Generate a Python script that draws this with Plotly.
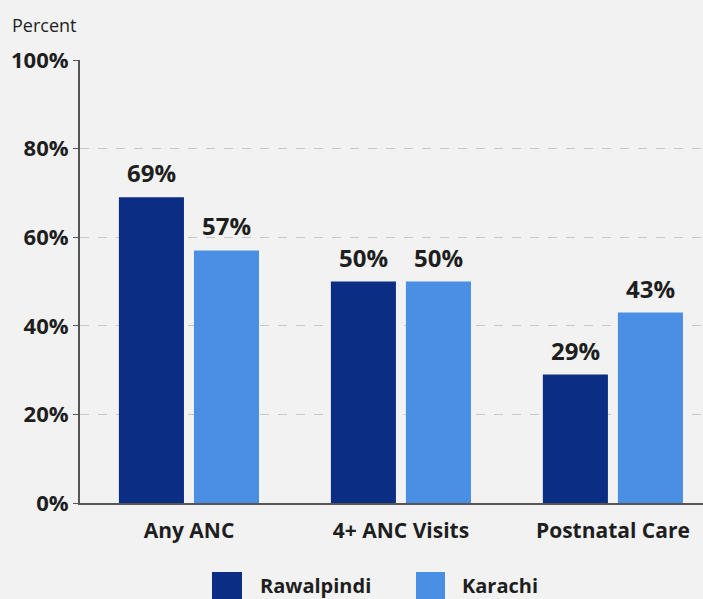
import plotly.graph_objects as go

categories = ["Any ANC", "4+ ANC Visits", "Postnatal Care"]
rawalpindi = [69, 50, 29]
karachi = [57, 50, 43]
series_names = ["Rawalpindi", "Karachi"]
colors = ["#0b2d84", "#4a8fe3"]
y_ticks = [0, 20, 40, 60, 80, 100]

FONT = "Open Sans"
TXT = "#1e1e1e"

fig = go.Figure()
series = [rawalpindi, karachi]
for name, vals, col in zip(series_names, series, colors):
    fig.add_trace(go.Bar(
        x=categories, y=vals, name=name, marker_color=col,
        marker_line_width=0, showlegend=False,
    ))

annotations = []
# value labels above bars
for si, vals in enumerate(series):
    for cat, v in zip(categories, vals):
        annotations.append(dict(
            x=cat, y=v, xref="x", yref="y", text=f"<b>{v}%</b>",
            xshift=-37 if si == 0 else 38, yshift=6,
            yanchor="bottom", showarrow=False,
            font=dict(family=FONT, size=24, color=TXT)))

annotations.append(dict(text="Percent", x=-0.112, y=1.0, xref="paper", yref="paper",
                        xanchor="left", yanchor="bottom", yshift=21, showarrow=False,
                        font=dict(family=FONT, size=18, color=TXT)))

# legend (large square swatches)
legend_pos = [(0.2119, 0.2600, 0.2856), (0.5393, 0.5859, 0.6100)]
shapes = []
for (x0, x1, xt), name, col in zip(legend_pos, series_names, colors):
    shapes.append(dict(type="rect", xref="paper", yref="paper",
                       x0=x0, x1=x1, y0=-0.2235, y1=-0.1558,
                       fillcolor=col, line_width=0))
    annotations.append(dict(text=f"<b>{name}</b>", x=xt, y=-0.186, xref="paper",
                            yref="paper", xanchor="left", yanchor="middle",
                            showarrow=False,
                            font=dict(family=FONT, size=20, color=TXT)))

fig.update_layout(
    width=703, height=599,
    paper_bgcolor="#f2f2f2", plot_bgcolor="#f2f2f2",
    margin=dict(l=80, r=0, t=60, b=96),
    barmode="group", bargap=0.292, bargroupgap=0.133,
    font=dict(family=FONT, color=TXT),
    showlegend=False,
    annotations=annotations, shapes=shapes,
)
fig.update_xaxes(
    range=[-0.514, 2.425], showgrid=False, showline=True, linecolor="#555555",
    linewidth=2, ticks="", tickfont=dict(family=FONT, size=21, color=TXT),
    tickprefix="<b>", ticksuffix="</b>", ticklabelstandoff=8,
)
fig.update_yaxes(
    range=[0, 100], tickvals=y_ticks, ticktext=[f"<b>{t}%</b>" for t in y_ticks],
    showgrid=True, gridcolor="#c8c8c8", griddash="dash", gridwidth=1,
    showline=True, linecolor="#555555", linewidth=2, zeroline=False,
    ticks="outside", ticklen=5, tickcolor="#555555",
    tickfont=dict(family=FONT, size=22, color=TXT),
)

fig.write_html("out.html", config={"displayModeBar": False},
               post_script="document.body.style.margin='0';")
